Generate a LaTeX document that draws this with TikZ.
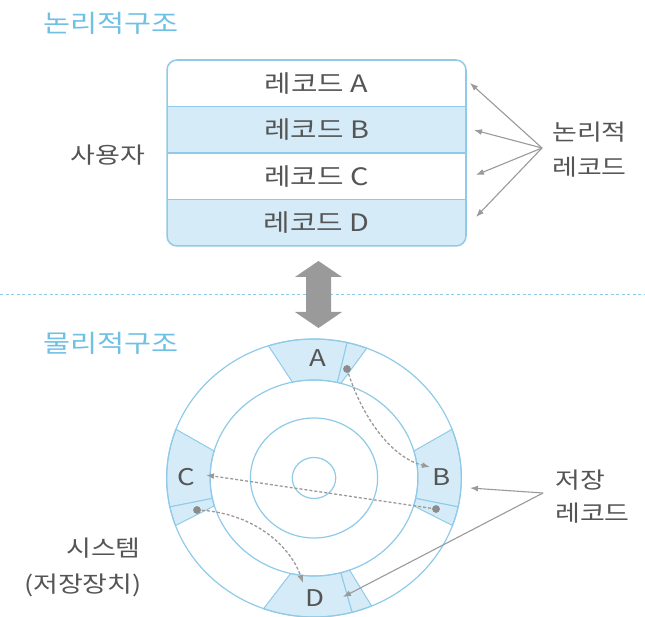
\documentclass[tikz,border=0pt]{standalone}
\usepackage{fontspec}
\setmainfont{Noto Sans CJK KR}[FakeStretch=1.2]
\usetikzlibrary{arrows.meta}
\definecolor{bl}{HTML}{8FCBE9}
\definecolor{blfill}{HTML}{D5ECF8}
\definecolor{ttl}{HTML}{6FC0E5}
\definecolor{txt}{HTML}{555555}
\definecolor{arr}{HTML}{9A9A9A}
\definecolor{dotc}{HTML}{8C8C8C}
\begin{document}
\begin{tikzpicture}[x=1pt,y=-1pt,
  ttlstyle/.style={text=ttl, font=\fontsize{24.5}{28}\selectfont, inner sep=0, anchor=west},
  lbl/.style={text=txt, font=\fontsize{22.5}{26}\selectfont, inner sep=0},
  rowbox/.style={draw=bl, line width=1.2pt, minimum width=299pt, minimum height=46.5pt, inner sep=0, text=txt, font=\fontsize{24}{27}\selectfont},
  seclbl/.style={text=txt, font=\fontsize{23}{26}\selectfont, inner sep=0},
  sector/.style={fill=blfill, draw=bl, line width=1pt},
  garrow/.style={draw=arr, line width=1.1pt, -{Latex[length=8pt,width=6pt]}},
  darrow/.style={draw=arr, line width=1.3pt, dash pattern=on 3pt off 2pt, -{Latex[length=8pt,width=6pt]}},
  dotnode/.style={circle, fill=dotc, inner sep=0, minimum size=7.5pt}
]
\useasboundingbox (0,0) rectangle (645,617);
\fill[white] (0,0) rectangle (645,617);

% titles
\node[ttlstyle] (t1) at (43,23) {논리적구조};
\node[ttlstyle] (t2) at (43,343) {물리적구조};

% logical record box
\begin{scope}
\clip[rounded corners=10pt] (167,60) rectangle (466,246);
\node[rowbox, fill=white]  (rA) at (316.5,83.25)  {레코드 A};
\node[rowbox, fill=blfill] (rB) at (316.5,129.75) {레코드 B};
\node[rowbox, fill=white]  (rC) at (316.5,176.25) {레코드 C};
\node[rowbox, fill=blfill] (rD) at (316.5,222.75) {레코드 D};
\end{scope}
\draw[bl, line width=1.5pt, rounded corners=10pt] (167,60) rectangle (466,246);

\node[lbl] (user) at (108,155) {사용자};
\node[lbl, anchor=west] (lr1) at (552,132) {논리적};
\node[lbl, anchor=west] (lr2) at (552,167) {레코드};

\coordinate (lo) at (542,148);
\coordinate (tA) at (470,83);
\coordinate (tB) at (474,130);
\coordinate (tC) at (476,175);
\coordinate (tD) at (476,217);
\draw[garrow] (lo) -- (tA);
\draw[garrow] (lo) -- (tB);
\draw[garrow] (lo) -- (tC);
\draw[garrow] (lo) -- (tD);

% divider
\coordinate (dl) at (0,295);
\coordinate (dr) at (645,295);
\draw[bl, line width=1pt, dash pattern=on 3pt off 2.5pt] (dl) -- (dr);

% double arrow
\fill[arr] (318.5,261) -- (342,277) -- (331,277) -- (331,312) -- (342,312) -- (318.5,328) -- (295,312) -- (306,312) -- (306,277) -- (295,277) -- cycle;

% disk
\begin{scope}[shift={(314,478)}, x=1.06pt, y=1pt]
\fill[white] (0,0) circle[radius=139];
% A
\filldraw[sector] (108:139) arc[start angle=108,end angle=77,radius=139] -- (77:98) arc[start angle=77,end angle=102,radius=98] -- cycle;
\filldraw[sector] (77:139) arc[start angle=77,end angle=69,radius=139] -- (75:98) arc[start angle=75,end angle=77,radius=98] -- cycle;
% B
\filldraw[sector] (20.5:139) arc[start angle=20.5,end angle=-12,radius=139] -- (-12:98) arc[start angle=-12,end angle=16,radius=98] -- cycle;
\filldraw[sector] (-12:139) arc[start angle=-12,end angle=-20,radius=139] -- (-16.5:98) arc[start angle=-16.5,end angle=-12,radius=98] -- cycle;
% C
\filldraw[sector] (159.5:139) arc[start angle=159.5,end angle=192,radius=139] -- (192:98) arc[start angle=192,end angle=164,radius=98] -- cycle;
\filldraw[sector] (192:139) arc[start angle=192,end angle=200,radius=139] -- (196.5:98) arc[start angle=196.5,end angle=192,radius=98] -- cycle;
% D
\filldraw[sector] (250:139) arc[start angle=250,end angle=285,radius=139] -- (285:98) arc[start angle=285,end angle=257,radius=98] -- cycle;
\filldraw[sector] (285:139) arc[start angle=285,end angle=293,radius=139] -- (290:98) arc[start angle=290,end angle=285,radius=98] -- cycle;
\draw[bl, line width=1.2pt] (0,0) circle[radius=139] (0,0) circle[radius=98] (0,0) circle[radius=60] (0,0) circle[radius=20.5];
\end{scope}

\node[seclbl] (lA) at (318,358) {A};
\node[seclbl] (lB) at (442,477) {B};
\node[seclbl] (lC) at (186,477) {C};
\node[seclbl] (lD) at (315,598) {D};

\coordinate (pB) at (430,467);
\coordinate (pC) at (206,475);
\coordinate (pD) at (303,583);
\node[dotnode] (dA) at (347,369) {};
\node[dotnode] (dB) at (436,509) {};
\node[dotnode] (dC) at (197,510) {};
\draw[darrow] (dA.center) .. controls (362,418) and (392,458) .. (pB);
\draw[darrow] (dB.center) -- (pC);
\draw[darrow] (dC.center) .. controls (252,512) and (290,545) .. (pD);
\node[dotnode] at (dA) {};
\node[dotnode] at (dB) {};
\node[dotnode] at (dC) {};

% storage record labels
\node[lbl, anchor=west] (s1) at (555,480) {저장};
\node[lbl, anchor=west] (s2) at (555,513) {레코드};
\coordinate (so) at (543,493);
\coordinate (sB) at (470,488);
\coordinate (sD) at (343,597);
\draw[garrow] (so) -- (sB);
\draw[garrow] (so) -- (sD);

\node[lbl, anchor=east] (sys1) at (141,548) {시스템};
\node[lbl, anchor=east] (sys2) at (142,585) {(저장장치)};
\end{tikzpicture}
\end{document}
